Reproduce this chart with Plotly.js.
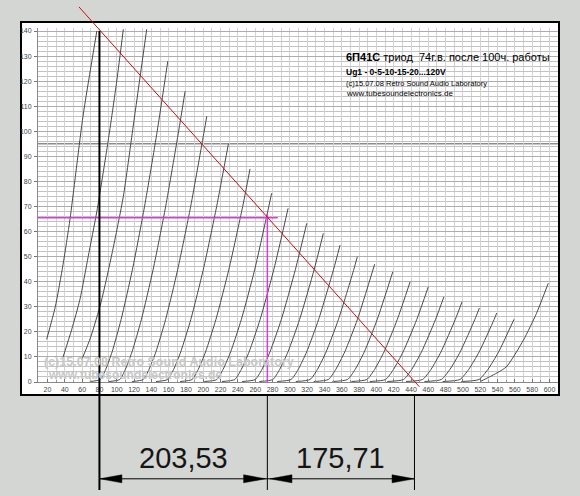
<!DOCTYPE html>
<html><head><meta charset="utf-8">
<script src="https://cdn.plot.ly/plotly-3.0.1.min.js"></script>
<style>html,body{margin:0;padding:0;background:#d4d6d3;}</style>
</head><body><div id="chart" style="width:580px;height:496px;"></div>
<script>
// ---------- data: anode voltage (V) / anode current (mA), one array per grid-voltage curve ----------
const curveVa = [
  [19,29,38,46,61,77],
  [38,48,57.5,67,77,90,100,107.6],
  [59.5,70,82,95,107.6,119,134.6],
  [68.8,81,87.2,94.6,105.1,118.2,132.1,146.7,159],
  [90.9,103.5,109.9,117.6,128.5,142.1,156.5,171.5,179],
  [117.6,130.6,137.2,145.2,156.5,170.5,185.4,201,204],
  [145.4,158.8,165.7,173.9,185.6,200.1,215.4,229],
  [173.2,187.1,194.1,202.6,214.6,229.6,245.5,254],
  [201.2,215.6,222.8,231.6,244,259.5,279],
  [221.6,236.4,243.9,252.9,265.7,281.6,298],
  [244.8,260,267.7,277,290.2,306.5,319.5],
  [264.7,280.3,288.2,297.8,311.3,328.2,338.7],
  [285.4,301.4,309.6,319.4,333.3,350.6,358],
  [306.9,323.4,331.8,341.9,356.2,374,378],
  [327.5,344.5,353,363.4,378.1,398],
  [349.2,366.6,375.4,386,401,419],
  [371.1,388.9,397.9,408.8,424.2,439],
  [392.3,410.5,419.7,430.8,446.7,460],
  [412.6,431.3,440.8,452.1,468.4,478],
  [434.2,453.3,463,474.6,491.2,499],
  [455.5,475,484.9,496.8,513.8,519],
  [476.5,496.5,506.6,518.7,536.1,539],
  [498.1,518.5,528.8,541.2,559],
  [520,531,550,570,585,598.6]
];
const curveIa = [
  [17,30,47,65,106,140],
  [10,21,33,50,68,96,120,140.7],
  [8.8,18,32,52,74,102,140.7],
  [0.2,1,5,12,25,45,70,100,128],
  [0.2,1,5,12,25,45,70,100,116],
  [0.2,1,5,12,25,45,70,100,106],
  [0.2,1,5,12,25,45,70,95],
  [0.2,1,5,12,25,45,70,85],
  [0.2,1,5,12,25,45,75.3],
  [0.2,1,5,12,25,45,69.3],
  [0.2,1,5,12,25,45,63.3],
  [0.2,1,5,12,25,45,59.3],
  [0.2,1,5,12,25,45,54.6],
  [0.2,1,5,12,25,45,50],
  [0.2,1,5,12,25,47],
  [0.2,1,5,12,25,44],
  [0.2,1,5,12,25,40],
  [0.2,1,5,12,25,38],
  [0.2,1,5,12,25,34],
  [0.2,1,5,12,25,32],
  [0.2,1,5,12,25,29.5],
  [0.2,1,5,12,25,27.5],
  [0.2,1,5,12,25],
  [0.2,2.1,6,16.8,27.4,39.4]
];
const loadV = [56.4, 449.6];
const loadI = [149.6, -1.9];
const opV = 274, opI = 65.5;
const dimV = [80, 274, 444];
const dimLabels = ['203,53', '175,71'];
const xTickVals = [20,40,60,80,100,120,140,160,180,200,220,240,260,280,300,320,340,360,380,400,420,440,460,480,500,520,540,560,580,600];
const yTickVals = [0,10,20,30,40,50,60,70,80,90,100,110,120,130,140];
const darkGridI = [95];

// ---------- geometry ----------
const W = 580, H = 496;
const pxPerV = 0.8655, vZeroPx = 30.2;     // x pixel = vZeroPx + pxPerV*V
const pxPerI = 2.507,  iZeroPy = 382;      // y pixel = iZeroPy - pxPerI*I
const plotL = 38, plotR = 558, plotT = 28, plotB = 382;
const vAt = px => (px - vZeroPx) / pxPerV;
const iAt = py => (iZeroPy - py) / pxPerI;
const fx = px => px / W, fy = py => 1 - py / H;

const curveColor = '#4a4a4a';
const traces = [];
curveVa.forEach((v, k) => {
  traces.push({x: v, y: curveIa[k], type: 'scatter', mode: 'lines', xaxis: 'x', yaxis: 'y',
    line: {color: curveColor, width: 1, shape: 'spline', smoothing: 0.6},
    name: 'curve ' + k, showlegend: false, hoverinfo: 'skip'});
});
// magenta operating point lines
const mag = '#d83cd8';
traces.push({x: [vAt(plotL), opV + 12], y: [opI, opI], xaxis: 'x2', yaxis: 'y2', mode: 'lines',
  line: {color: mag, width: 1.5}, showlegend: false, hoverinfo: 'skip'});
traces.push({x: [opV, opV], y: [opI + 1.5, 0], xaxis: 'x2', yaxis: 'y2', mode: 'lines',
  line: {color: mag, width: 1.5}, showlegend: false, hoverinfo: 'skip'});
// load line
traces.push({x: loadV, y: loadI, xaxis: 'x2', yaxis: 'y2', mode: 'lines',
  line: {color: '#c80f0f', width: 1}, showlegend: false, hoverinfo: 'skip'});

// dimension geometry
const dimY = iAt(478.8);
const lineBottom = iAt(490);
const frameBottomI = iAt(395);
const arrLen = 22 / pxPerV, arrHalf = 4 / pxPerI;
const shapes = [];
shapes.push({type: 'rect', xref: 'paper', yref: 'paper', x0: fx(21), x1: fx(559), y0: fy(395), y1: fy(22),
  fillcolor: '#ffffff', line: {color: '#000', width: 2}, layer: 'below'});
darkGridI.forEach(g => shapes.push({type: 'line', xref: 'x', yref: 'y', x0: vAt(plotL), x1: vAt(plotR), y0: g, y1: g,
  line: {color: '#8c8c8c', width: 1.5}, layer: 'below'}));
// vertical black lines
shapes.push({type: 'line', xref: 'x2', yref: 'y2', x0: dimV[0], x1: dimV[0], y0: 140, y1: lineBottom, line: {color: '#000', width: 2}});
shapes.push({type: 'line', xref: 'x2', yref: 'y2', x0: dimV[1], x1: dimV[1], y0: frameBottomI, y1: lineBottom, line: {color: '#000', width: 1}});
shapes.push({type: 'line', xref: 'x2', yref: 'y2', x0: dimV[2], x1: dimV[2], y0: frameBottomI, y1: lineBottom, line: {color: '#000', width: 1}});
// dimension horizontal line
shapes.push({type: 'line', xref: 'x2', yref: 'y2', x0: dimV[0], x1: dimV[2], y0: dimY, y1: dimY, line: {color: '#000', width: 1}});
function arrow(tip, dir) {
  const b = tip - dir * arrLen;
  return {type: 'path', xref: 'x2', yref: 'y2',
    path: `M ${tip} ${dimY} L ${b} ${dimY + arrHalf} L ${b} ${dimY - arrHalf} Z`,
    fillcolor: '#000', line: {color: '#000', width: 0.5}};
}
shapes.push(arrow(dimV[0] + 0.5, -1), arrow(dimV[1] - 2, 1), arrow(dimV[1] + 3, -1), arrow(dimV[2] - 0.5, 1));

const annotations = [];
const F = 'Liberation Sans, Arial, sans-serif';
annotations.push({x: (dimV[0] + dimV[1]) / 2, y: iAt(458), xref: 'x2', yref: 'y2', text: dimLabels[0], showarrow: false,
  font: {family: F, size: 29, color: '#151515'}, xanchor: 'center', yanchor: 'middle'});
annotations.push({x: (dimV[1] + dimV[2]) / 2, y: iAt(458), xref: 'x2', yref: 'y2', text: dimLabels[1], showarrow: false,
  font: {family: F, size: 29, color: '#151515'}, xanchor: 'center', yanchor: 'middle'});
function note(text, px, py, size, color) {
  annotations.push({x: fx(px), y: fy(py), xref: 'paper', yref: 'paper', text: text, showarrow: false,
    xanchor: 'left', yanchor: 'middle', font: {family: F, size: size, color: color || '#000'}});
}
note('<b>6П41С</b> триод  74г.в. после 100ч. работы', 344, 57, 11);
note('<b>Ug1 - 0-5-10-15-20...120V</b>', 344, 72, 8.5);
note('(c)15.07.08 Retro Sound Audio Laboratory', 344, 83, 7.5);
note('www.tubesoundelectronics.de', 344, 93, 8);
note('<b>(c)15.07.08 Retro Sound Audio Laboratory</b>', 42, 362, 12.5, '#c8c8c8');
note('<b>www.tubesoundelectronics.de</b>', 46, 374.5, 12, '#c8c8c8');

const tickFont = {family: F, size: 7, color: '#444'};
const layout = {
  width: W, height: H, margin: {l: 0, r: 0, t: 0, b: 0, pad: 0},
  paper_bgcolor: '#d4d6d3', plot_bgcolor: 'rgba(0,0,0,0)', showlegend: false,
  xaxis: {domain: [fx(plotL), fx(plotR)], range: [vAt(plotL), vAt(plotR)], anchor: 'y',
    tickmode: 'array', tickvals: xTickVals, ticks: 'inside', ticklen: 3, tickcolor: '#777', ticklabelstandoff: 1,
    showgrid: true, gridcolor: '#d2d2d2', gridwidth: 1, zeroline: false,
    showline: true, linecolor: '#888', linewidth: 1, tickfont: tickFont,
    minor: {dtick: 10, tick0: 0, showgrid: true, gridcolor: '#d2d2d2', ticks: 'inside', ticklen: 2, tickcolor: '#999'}},
  yaxis: {domain: [fy(plotB), fy(plotT)], range: [0, iAt(plotT)], anchor: 'x',
    tickmode: 'array', tickvals: yTickVals, ticks: 'outside', ticklen: 3, tickcolor: '#777', ticklabelstandoff: 1,
    showgrid: true, gridcolor: '#adadad', gridwidth: 1, zeroline: false,
    showline: true, linecolor: '#888', linewidth: 1, tickfont: tickFont,
    minor: {dtick: 2, tick0: 0, showgrid: true, gridcolor: '#c2c2c2', ticks: ''}},
  xaxis2: {domain: [0, 1], range: [vAt(0), vAt(W)], anchor: 'y2', visible: false, fixedrange: true},
  yaxis2: {domain: [0, 1], range: [iAt(H), iAt(0)], anchor: 'x2', visible: false, fixedrange: true},
  shapes: shapes, annotations: annotations
};
Plotly.newPlot('chart', traces, layout, {staticPlot: true, displayModeBar: false});
</script></body></html>
